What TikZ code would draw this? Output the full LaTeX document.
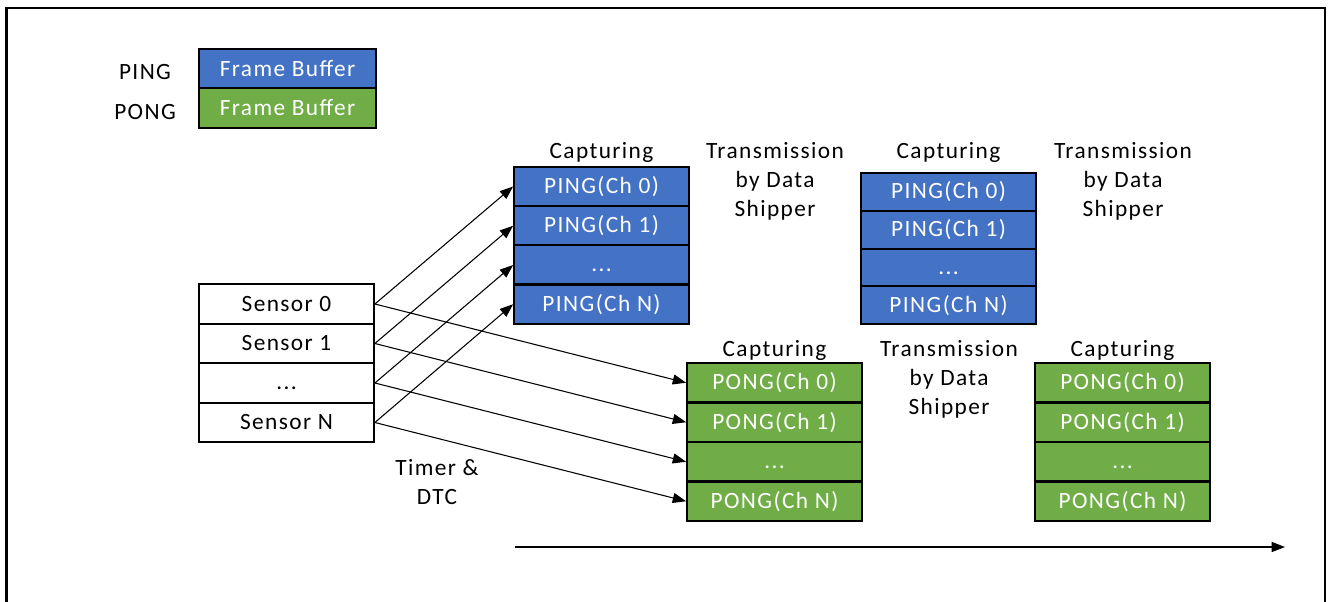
\documentclass[tikz,border=0pt]{standalone}
\usepackage{fontspec}
\setmainfont[LetterSpace=6]{Carlito}
\usepackage{tikz}
\usetikzlibrary{arrows.meta}
\definecolor{pingblue}{HTML}{4472C4}
\definecolor{ponggreen}{HTML}{70AD47}
\newcommand{\lowdots}{\vphantom{PING(Ch)}...}

\begin{document}
\begin{tikzpicture}[x=0.75pt,y=-0.75pt,
  every node/.style={font=\fontsize{17.5}{22}\selectfont},
  cell/.style={draw,line width=1.6pt,minimum width=131pt,minimum height=29.6pt,inner sep=0pt},
  ping/.style={cell,fill=pingblue,text=white},
  pong/.style={cell,fill=ponggreen,text=white},
  sensor/.style={cell,fill=white},
  phase/.style={align=center},
  feed/.style={-{Triangle[length=10pt,width=7.5pt]},line width=0.8pt}]
\useasboundingbox (0,0) rectangle (1328,601);
\draw[line width=2.2pt] (6.5,610) -- (6.5,8) -- (1325,8) -- (1325,610);

% legend
\node (lping) at (145,72) {PING};
\node (lpong) at (145,112) {PONG};
\node[ping,minimum width=133pt] (fping) at (287.5,68.5) {Frame Buffer};
\node[pong,minimum width=133pt] (fpong) at (287.5,108) {Frame Buffer};

% sensors
\node[sensor] (s0) at (286.5,304) {Sensor 0};
\node[sensor] (s1) at (286.5,343.5) {Sensor 1};
\node[sensor] (sd) at (286.5,383) {\lowdots};
\node[sensor] (sn) at (286.5,422.5) {Sensor N};
\node[phase] (timer) at (437,482) {Timer \&\\DTC};

% PING buffers
\node[ping] (pa0) at (601.5,186.5) {PING(Ch 0)};
\node[ping] (pa1) at (601.5,225.75) {PING(Ch 1)};
\node[ping] (pad) at (601.5,265) {\lowdots};
\node[ping] (pan) at (601.5,304.25) {PING(Ch N)};
\node[ping,minimum height=28.3pt] (pb0) at (948.5,192) {PING(Ch 0)};
\node[ping,minimum height=28.3pt] (pb1) at (948.5,229.75) {PING(Ch 1)};
\node[ping,minimum height=28.3pt] (pbd) at (948.5,267.5) {\lowdots};
\node[ping,minimum height=28.3pt] (pbn) at (948.5,305.25) {PING(Ch N)};

% PONG buffers
\node[pong] (qa0) at (774.5,382.75) {PONG(Ch 0)};
\node[pong] (qa1) at (774.5,422.25) {PONG(Ch 1)};
\node[pong] (qad) at (774.5,461.75) {\lowdots};
\node[pong] (qan) at (774.5,501.25) {PONG(Ch N)};
\node[pong] (qb0) at (1122.5,382.75) {PONG(Ch 0)};
\node[pong] (qb1) at (1122.5,422.25) {PONG(Ch 1)};
\node[pong] (qbd) at (1122.5,461.75) {\lowdots};
\node[pong] (qbn) at (1122.5,501.25) {PONG(Ch N)};

% phases
\node (capa) at (601.5,152) {Capturing};
\node[phase] (txa) at (775,181.5) {Transmission\\by Data\\Shipper};
\node (capb) at (948.5,152) {Capturing};
\node[phase] (txb) at (1123,181.5) {Transmission\\by Data\\Shipper};
\node (capc) at (774.5,350) {Capturing};
\node[phase] (txc) at (949,379.5) {Transmission\\by Data\\Shipper};
\node (capd) at (1122.5,350) {Capturing};

% sensor -> buffer
\draw[feed] (s0.east) -- (pa0.west);
\draw[feed] (s1.east) -- (pa1.west);
\draw[feed] (sd.east) -- (pad.west);
\draw[feed] (sn.east) -- (pan.west);
\draw[feed] (s0.east) -- (qa0.west);
\draw[feed] (s1.east) -- (qa1.west);
\draw[feed] (sd.east) -- (qad.west);
\draw[feed] (sn.east) -- (qan.west);

% time axis
\coordinate (t0) at (515,547);
\coordinate (t1) at (1285,547);
\draw[feed,line width=1pt] (t0) -- (t1);
\end{tikzpicture}
\end{document}
